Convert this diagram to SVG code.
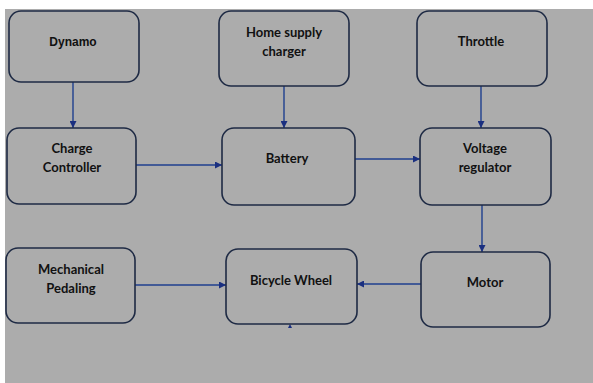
<svg xmlns="http://www.w3.org/2000/svg" width="593" height="383" viewBox="0 0 593 383">
<defs>
<style>
.box{fill:#acacac;stroke:#1e2a44;stroke-width:1.6}
.t{font-family:Lato,"Open Sans","Liberation Sans",sans-serif;font-weight:bold;font-size:13px;fill:#111;text-anchor:middle}
.ta{font-family:"Liberation Sans",Arial,sans-serif;font-weight:bold;font-size:12px;fill:#111;text-anchor:middle}
.c{stroke:#1f3f8f;stroke-width:1.4;fill:none;marker-end:url(#ah)}
</style>
<marker id="ah" viewBox="0 0 10 10" refX="10" refY="5" markerWidth="7" markerHeight="7" markerUnits="userSpaceOnUse" orient="auto">
<path d="M0,0 L10,5 L0,10 z" fill="#1a2f80"/>
</marker>
</defs>
<rect x="0" y="0" width="593" height="383" fill="#ffffff"/>
<rect x="5" y="9" width="588" height="374" fill="#acacac"/>
<g id="connectors">
<line class="c" x1="73" y1="82" x2="73" y2="128"/>
<line class="c" x1="284" y1="86" x2="284" y2="128"/>
<line class="c" x1="481" y1="86" x2="481" y2="128"/>
<line class="c" x1="136" y1="165" x2="222" y2="165"/>
<line class="c" x1="355" y1="159" x2="420" y2="159"/>
<line class="c" x1="482" y1="205" x2="482" y2="252"/>
<line class="c" x1="135" y1="285" x2="226" y2="285"/>
<line class="c" x1="421" y1="284" x2="357" y2="284"/>
<path d="M288,328 L290,324 L292,328 z" fill="#1a2f80"/>
</g>
<g id="dynamo"><rect class="box" x="9" y="11" width="130" height="71" rx="12"/><text class="ta" x="73" y="46">Dynamo</text></g>
<g id="home"><rect class="box" x="219" y="11" width="130" height="75" rx="12"/><text class="t" x="284" y="37">Home supply</text><text class="t" x="284" y="56">charger</text></g>
<g id="throttle"><rect class="box" x="417" y="11" width="130" height="75" rx="12"/><text class="t" x="481" y="46">Throttle</text></g>
<g id="charge"><rect class="box" x="7" y="128" width="129" height="76" rx="12"/><text class="t" x="72" y="153">Charge</text><text class="t" x="72" y="172">Controller</text></g>
<g id="battery"><rect class="box" x="222" y="128" width="133" height="77" rx="12"/><text class="t" x="287" y="163">Battery</text></g>
<g id="voltage"><rect class="box" x="420" y="128" width="131" height="77" rx="12"/><text class="t" x="485" y="153">Voltage</text><text class="t" x="485" y="172">regulator</text></g>
<g id="mech"><rect class="box" x="6" y="248" width="129" height="75" rx="12"/><text class="t" x="71" y="274">Mechanical</text><text class="t" x="71" y="293">Pedaling</text></g>
<g id="wheel"><rect class="box" x="226" y="249" width="131" height="75" rx="12"/><text class="t" x="291" y="285">Bicycle Wheel</text></g>
<g id="motor"><rect class="box" x="421" y="252" width="129" height="75" rx="12"/><text class="t" x="485" y="287">Motor</text></g>
</svg>
